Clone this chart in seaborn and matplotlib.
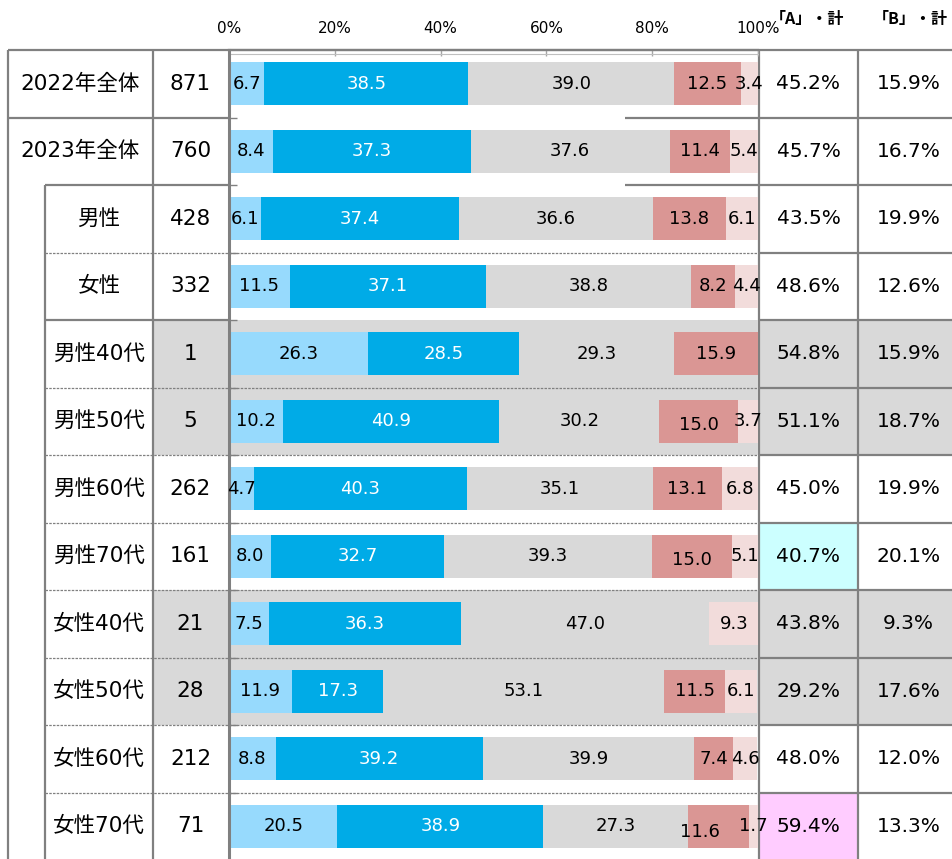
import matplotlib
matplotlib.use("Agg")
import matplotlib.pyplot as plt
from matplotlib.patches import Rectangle
import numpy as np
import pandas as pd
import seaborn as sns

# ---- data -------------------------------------------------------------
categories = ["2022年全体", "2023年全体", "男性", "女性",
              "男性40代", "男性50代", "男性60代", "男性70代",
              "女性40代", "女性50代", "女性60代", "女性70代"]
sample_n = [871, 760, 428, 332, 1, 5, 262, 161, 21, 28, 212, 71]

seg1 = [6.7, 8.4, 6.1, 11.5, 26.3, 10.2, 4.7, 8.0, 7.5, 11.9, 8.8, 20.5]
seg2 = [38.5, 37.3, 37.4, 37.1, 28.5, 40.9, 40.3, 32.7, 36.3, 17.3, 39.2, 38.9]
seg3 = [39.0, 37.6, 36.6, 38.8, 29.3, 30.2, 35.1, 39.3, 47.0, 53.1, 39.9, 27.3]
seg4 = [12.5, 11.4, 13.8, 8.2, 15.9, 15.0, 13.1, 15.0, 0.0, 11.5, 7.4, 11.6]
seg5 = [3.4, 5.4, 6.1, 4.4, 0.0, 3.7, 6.8, 5.1, 9.3, 6.1, 4.6, 1.7]

total_a = [45.2, 45.7, 43.5, 48.6, 54.8, 51.1, 45.0, 40.7, 43.8, 29.2, 48.0, 59.4]
total_b = [15.9, 16.7, 19.9, 12.6, 15.9, 18.7, 19.9, 20.1, 9.3, 17.6, 12.0, 13.3]

x_ticks = [0, 20, 40, 60, 80, 100]
x_tick_labels = ["0%", "20%", "40%", "60%", "80%", "100%"]
header_a = "「A」・計"
header_b = "「B」・計"

# ---- style --------------------------------------------------------------
sns.set_theme(style="white")
FAM = ["DejaVu Sans", "Noto Sans CJK JP"]
plt.rcParams["font.family"] = FAM
plt.rcParams["text.color"] = "black"

seg_colors = ["#97DAFD", "#00ABE7", "#D9D9D9", "#DA9694", "#F2DCDB"]
label_colors = ["black", "white", "black", "black", "black"]
LINE = "#808080"
SHADE = "#D9D9D9"
small_n = [n < 30 for n in sample_n]
highlight_a = {7: "#CCFFFF", 11: "#FFCCFF"}
# (row, segment) -> label offset in (percent, row) units, to keep labels apart
label_nudge = {(11, 3): (-3.5, 0.08), (5, 3): (0.0, 0.06), (7, 3): (0.0, 0.06)}

W, H = 953, 859
fig = plt.figure(figsize=(W / 100, H / 100), dpi=100)

# table overlay in pixel coordinates
tab = fig.add_axes([0, 0, 1, 1])
tab.set_xlim(0, W)
tab.set_ylim(H, 0)
tab.axis("off")
tab.set_zorder(0)

TOP, ROW = 50.0, 67.5
X_L0, X_L1, X_N, X_BAR, X_A, X_B, X_R = 8, 45, 153, 228, 759, 858, 953
n_rows = len(categories)
row_y = [TOP + ROW * k for k in range(n_rows + 1)]

# shaded / highlighted cells
for i in range(n_rows):
    y0 = row_y[i]
    if small_n[i]:
        tab.add_patch(Rectangle((X_N, y0), X_BAR - X_N, ROW, color=SHADE, lw=0))
        tab.add_patch(Rectangle((X_A, y0), X_R - X_A, ROW, color=SHADE, lw=0))
    if i in highlight_a:
        tab.add_patch(Rectangle((X_A, y0), X_B - X_A, ROW, color=highlight_a[i], lw=0))

# grid lines of the table
solid = dict(color=LINE, lw=1.6, solid_capstyle="butt")
dotted = dict(color=LINE, lw=0.9, linestyle=(0, (2, 1)))
bottom = H + 2
for x, y_start in [(X_L0, TOP), (X_L1, row_y[2]), (X_N, TOP), (X_A, TOP), (X_B, TOP)]:
    tab.plot([x, x], [y_start, bottom], **solid)
tab.plot([X_L0, X_R], [TOP, TOP], **solid)
tab.plot([X_L0, X_BAR], [row_y[1]] * 2, **solid)
tab.plot([625, X_R], [row_y[1]] * 2, **solid)
tab.plot([X_L1, X_BAR], [row_y[2]] * 2, **solid)
tab.plot([625, X_R], [row_y[2]] * 2, **solid)
tab.plot([X_L1, X_BAR], [row_y[4]] * 2, **solid)
tab.plot([X_A, X_R], [row_y[4]] * 2, **solid)
dotted_rows = [3, 5, 6, 7, 8, 9, 10, 11]
for k in dotted_rows:
    tab.plot([X_L1, X_BAR], [row_y[k]] * 2, **dotted)
    tab.plot([X_A, X_R], [row_y[k]] * 2, **solid)

# row texts
for i, (cat, n, a, b) in enumerate(zip(categories, sample_n, total_a, total_b)):
    yc = row_y[i] + ROW / 2
    xl = (X_L0 + X_N) / 2 if i < 2 else (X_L1 + X_N) / 2
    tab.text(xl, yc, cat, ha="center", va="center", fontsize=15.5)
    tab.text((X_N + X_BAR) / 2, yc, f"{n}", ha="center", va="center", fontsize=15.5)
    tab.text((X_A + X_B) / 2, yc, f"{a:.1f}%", ha="center", va="center", fontsize=14.5)
    tab.text((X_B + X_R) / 2 + 3, yc, f"{b:.1f}%", ha="center", va="center", fontsize=14.5)

HEAD_FAM = ["Noto Sans CJK JP", "DejaVu Sans"]
tab.text(807, 19, header_a, ha="center", va="center", fontsize=11.5,
         fontweight="bold", family=HEAD_FAM)
tab.text(910, 19, header_b, ha="center", va="center", fontsize=11.5,
         fontweight="bold", family=HEAD_FAM)

# ---- stacked bars ------------------------------------------------------
ax = fig.add_axes([(X_BAR + 1) / W, (H - 860) / H, (758 - X_BAR - 1) / W, 810 / H])
ax.set_zorder(2)
ax.patch.set_visible(False)

df = pd.DataFrame({"group": categories, "s1": seg1, "s2": seg2, "s3": seg3,
                   "s4": seg4, "s5": seg5})
seg_cols = ["s1", "s2", "s3", "s4", "s5"]
cum = df[seg_cols].cumsum(axis=1)

for i in range(n_rows):
    if small_n[i]:
        ax.axhspan(i - 0.5, i + 0.5, color=SHADE, lw=0, zorder=0)
for k in dotted_rows:
    ax.axhline(k - 0.5, **dotted, zorder=0.5)

for col, color in reversed(list(zip(seg_cols, seg_colors))):
    sns.barplot(x=cum[col], y=df["group"], order=categories, orient="h",
                color=color, saturation=1, width=0.64, errorbar=None,
                edgecolor="none", linewidth=0, ax=ax, zorder=1)

for j, col in enumerate(seg_cols):
    for i in range(n_rows):
        v = df.loc[i, col]
        if v <= 0:
            continue
        dx, dy = label_nudge.get((i, j), (0.0, 0.0))
        xc = cum.loc[i, col] - v / 2 + dx
        ax.text(xc, i + dy, f"{v:.1f}", ha="center", va="center", fontsize=13,
                color=label_colors[j], zorder=3)

ax.set_xlim(0, 100)
ax.set_ylim(n_rows - 0.5, -0.5)
ax.set_xlabel("")
ax.set_ylabel("")
ax.set_yticks([])
ax.set_yticks(np.arange(0.5, n_rows - 0.5, 1), minor=True)
ax.tick_params(axis="y", which="minor", left=True, direction="in", length=6,
               width=1, color=LINE)
ax.set_xticks(x_ticks)
ax.set_xticklabels(x_tick_labels)
ax.tick_params(axis="x", which="major", top=True, bottom=False, labeltop=True,
               labelbottom=False, direction="in", length=4, width=1,
               color="#A6A6A6", labelsize=11, pad=10, labelcolor="black")
for side in ("right", "bottom"):
    ax.spines[side].set_visible(False)
ax.spines["top"].set_color(LINE)
ax.spines["top"].set_linewidth(1.6)
ax.spines["left"].set_color(LINE)
ax.spines["left"].set_linewidth(2.2)
ax.plot([0, 1], [1 - 3.5 / 810] * 2, transform=ax.transAxes, color="#BFBFBF",
        lw=0.8, clip_on=False, zorder=1)

fig.savefig("out.png", dpi=100)
